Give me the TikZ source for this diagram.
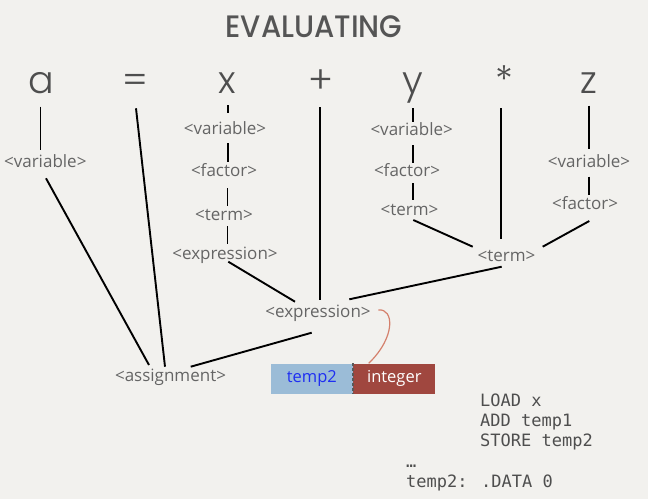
\documentclass[tikz,border=0pt]{standalone}
\usepackage{fontspec}
\usetikzlibrary{calc}
\newfontfamily\labfont{Open Sans}
\newfontfamily\codefont{DejaVu Sans Mono}
\IfFontExistsTF{Poppins Medium}{\newfontfamily\titfont{Poppins Medium}}{\newfontfamily\titfont{Poppins}}
\IfFontExistsTF{Poppins Light}{\newfontfamily\tokfont{Poppins Light}}{\newfontfamily\tokfont{Poppins}}
\definecolor{bg}{HTML}{F2F1EE}
\definecolor{labc}{HTML}{656565}
\definecolor{tokc}{HTML}{4E4E4E}
\definecolor{titc}{HTML}{555555}
\definecolor{boxblue}{HTML}{9BBCD7}
\definecolor{txtblue}{HTML}{1E2EF2}
\definecolor{boxred}{HTML}{A0473F}
\definecolor{curvec}{HTML}{D4806C}
\definecolor{codec}{HTML}{4E4E4E}
\tikzset{
  tok/.style={anchor=base, inner sep=0pt, text=tokc, font=\tokfont\fontsize{38}{40}\selectfont},
  lab/.style={anchor=base, inner sep=0pt, text=labc, font=\labfont\fontsize{17}{20}\selectfont},
  conn/.style={line width=1.9pt, black},
  cell/.style={minimum width=82pt, minimum height=30pt, inner sep=0pt, anchor=north west, font=\labfont\fontsize{16.5}{19}\selectfont},
  code/.style={anchor=base west, inner sep=0pt, text=codec, font=\codefont\fontsize{17}{20}\selectfont}
}
\begin{document}
\begin{tikzpicture}[x=1pt,y=-1pt]
\fill[bg] (0,0) rectangle (648,499);
\useasboundingbox (0,0) rectangle (648,499);
% title
\node[anchor=base, inner sep=0pt, text=titc, font=\titfont\fontsize{31}{34}\selectfont] (title) at (314,37) {\scalebox{0.94}[1]{EVALUATING}};
% tokens
\node[tok] (tA) at (41.7,93) {a};
\node[tok] (tEq) at (135,93) {=};
\node[tok] (tX) at (227.5,93) {x};
\node[tok] (tPlus) at (320.5,93) {+};
\node[tok] (tY) at (412.5,93) {y};
\node[tok] (tStar) at (504,93) {*};
\node[tok] (tZ) at (589,93) {z};
% labels
\node[lab] (vA) at (45.3,167.3) {<variable>};
\node[lab] (vX) at (225,134.3) {<variable>};
\node[lab] (fX) at (224,176) {<factor>};
\node[lab] (tmX) at (224,220.5) {<term>};
\node[lab] (eX) at (225,259.3) {<expression>};
\node[lab] (vY) at (411.7,135) {<variable>};
\node[lab] (fY) at (407,176.7) {<factor>};
\node[lab] (tmY) at (409.5,215.7) {<term>};
\node[lab] (vZ) at (589,167.7) {<variable>};
\node[lab] (fZ) at (585,209) {<factor>};
\node[lab] (tmB) at (506.5,261.7) {<term>};
\node[lab] (eB) at (318,317) {<expression>};
\node[lab] (asg) at (170.5,381.7) {<assignment>};
% connectors
\draw[conn] ($(tA.base)+(-1.2,13.7)$) -- ($(vA.base)+(-4.8,-17.3)$);
\draw[conn] ($(vA.base)+(0.7,11)$) -- ($(asg.base)+(-21.5,-16.7)$);
\draw[conn] ($(tEq.base)+(1,15.3)$) -- ($(asg.base)+(-5.5,-15)$);
\draw[conn] ($(tX.base)+(0.5,12)$) -- ($(vX.base)+(3,-21.6)$);
\draw[conn] ($(vX.base)+(3,8.7)$) -- ($(fX.base)+(4,-14.3)$);
\draw[conn] ($(fX.base)+(3.5,12)$) -- ($(tmX.base)+(3.5,-14.5)$);
\draw[conn] ($(tmX.base)+(3.5,5.5)$) -- ($(eX.base)+(2.5,-15.3)$);
\draw[conn] ($(eX.base)+(3.3,2.4)$) -- ($(eB.base)+(-23,-15.3)$);
\draw[conn] ($(tPlus.base)+(-0.5,14)$) -- ($(eB.base)+(2,-17)$);
\draw[conn] ($(tY.base)+(0.2,15)$) -- ($(vY.base)+(1,-13.3)$);
\draw[conn] ($(vY.base)+(1,10)$) -- ($(fY.base)+(5.7,-13.7)$);
\draw[conn] ($(fY.base)+(5.7,6.3)$) -- ($(tmY.base)+(3.2,-15.7)$);
\draw[conn] ($(tmY.base)+(3.8,4.3)$) -- ($(tmB.base)+(-33.8,-15)$);
\draw[conn] ($(tStar.base)+(-3,15.3)$) -- ($(tmB.base)+(-5.5,-22.7)$);
\draw[conn] ($(tZ.base)+(0.3,12.7)$) -- ($(vZ.base)+(0.3,-18.7)$);
\draw[conn] ($(vZ.base)+(0.3,9)$) -- ($(fZ.base)+(4.3,-14)$);
\draw[conn] ($(fZ.base)+(4.3,12)$) -- ($(tmB.base)+(36.2,-15)$);
\draw[conn] ($(tmB.base)+(-4.8,5)$) -- ($(eB.base)+(31.3,-17.7)$);
\draw[conn] ($(eB.base)+(-6.3,15.7)$) -- ($(asg.base)+(20.2,-15)$);
% boxes
\node[cell, fill=boxblue, text=txtblue] (blue) at (270.7,363.3) {temp2};
\node[cell, fill=boxred, text=white] (red) at (blue.north east) {integer};
\draw[line width=1.3pt, black!65, dash pattern=on 3pt off 2pt] (blue.north east) -- (blue.south east);
% curve
\draw[curvec, line width=1.2pt] ($(eB.base)+(60.3,-7)$) .. controls ($(eB.base)+(76,-9)$) and ($(eB.base)+(78,20)$) .. ($(red.north west)+(15.6,0)$);
% code
\node[code] (c1) at (480,406) {LOAD x};
\node[code] (c2) at (480,426.5) {ADD temp1};
\node[code] (c3) at (480,446.8) {STORE temp2};
\node[code] (c4) at (406,467) {…};
\node[code] (c5) at (406,487.3) {temp2: .DATA 0};
\end{tikzpicture}
\end{document}
